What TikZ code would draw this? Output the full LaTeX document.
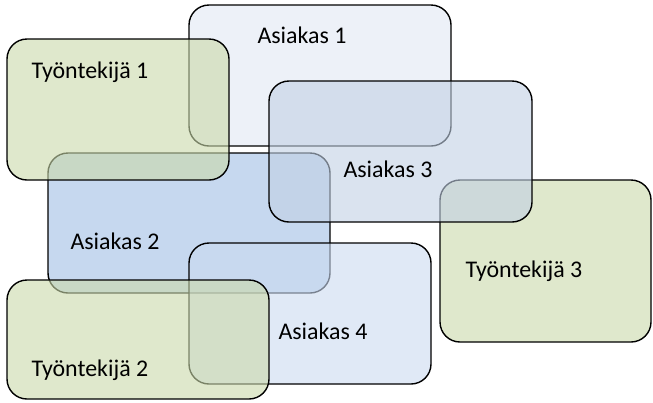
\documentclass[tikz,border=0pt]{standalone}
\usepackage{fontspec}
\setmainfont{Carlito}
\definecolor{greenfill}{RGB}{202,217,170}
\definecolor{paleblue}{RGB}{225,232,243}
\definecolor{greyblue}{RGB}{193,208,228}
\definecolor{midblue}{RGB}{160,190,228}
\definecolor{softblue}{RGB}{203,218,240}
\tikzset{
  card/.style={draw=black, line width=1.4bp, rounded corners=20bp,
    fill opacity=0.6, anchor=north west, inner sep=0pt, outer sep=0pt},
  cardlabel/.style={anchor=base west, inner sep=0pt, outer sep=0pt,
    font=\fontsize{24}{28}\selectfont, text=black}
}
\begin{document}
\begin{tikzpicture}[x=1bp, y=-1bp]
  \useasboundingbox (0,0) rectangle (653,402);
  % boxes, from the back to the front
  \node[card, fill=paleblue,  minimum width=262bp, minimum height=141bp] (asiakas1) at (189,5) {};
  \node[card, fill=midblue,   minimum width=282bp, minimum height=140bp] (asiakas2) at (48,153) {};
  \node[card, fill=greenfill, minimum width=222bp, minimum height=141bp] (tyontekija1) at (7,39) {};
  \node[card, fill=greenfill, minimum width=211bp, minimum height=162bp] (tyontekija3) at (440,180) {};
  \node[card, fill=greyblue,  minimum width=263bp, minimum height=141bp] (asiakas3) at (269,81) {};
  \node[card, fill=softblue,  minimum width=242bp, minimum height=141bp] (asiakas4) at (189,243) {};
  \node[card, fill=greenfill, minimum width=262bp, minimum height=119bp] (tyontekija2) at (7,280) {};
  % labels
  \node[cardlabel] (l1) at (31.5,78) {Työntekijä 1};
  \node[cardlabel] (l2) at (257.5,43) {Asiakas 1};
  \node[cardlabel] (l3) at (343.5,177) {Asiakas 3};
  \node[cardlabel] (l4) at (70.5,249) {Asiakas 2};
  \node[cardlabel] (l5) at (465.5,277) {Työntekijä 3};
  \node[cardlabel] (l6) at (278.5,339) {Asiakas 4};
  \node[cardlabel] (l7) at (31.5,376) {Työntekijä 2};
\end{tikzpicture}
\end{document}
